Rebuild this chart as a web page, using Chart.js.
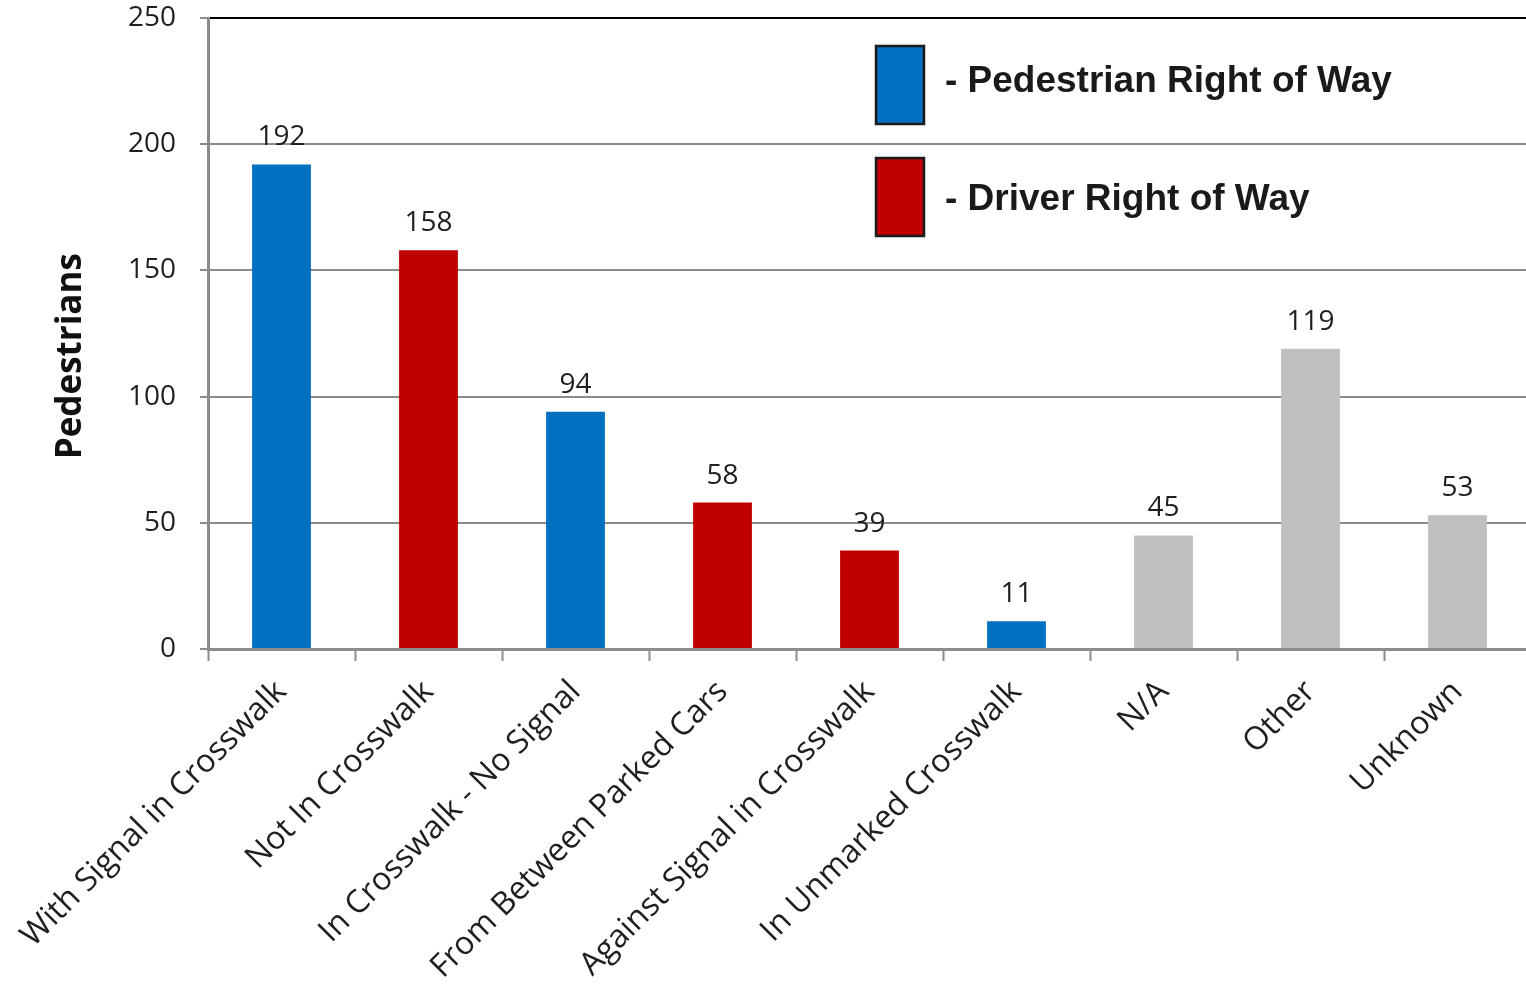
<!DOCTYPE html>
<html>
<head>
<meta charset="utf-8">
<title>Pedestrians by crossing location</title>
<script src="https://cdn.jsdelivr.net/npm/chart.js@4.4.1/dist/chart.umd.min.js"></script>
<style>
  html, body { margin: 0; padding: 0; overflow: hidden; background: #fff; }
  #wrap { width: 1531px; height: 988px; position: relative; }
</style>
</head>
<body>
<div id="wrap"><canvas id="chart"></canvas></div>
<script>
const categories = ['With Signal in Crosswalk', 'Not In Crosswalk', 'In Crosswalk - No Signal',
    'From Between Parked Cars', 'Against Signal in Crosswalk', 'In Unmarked Crosswalk',
    'N/A', 'Other', 'Unknown'];
const pedestrians = [192, 158, 94, 58, 39, 11, 45, 119, 53];
// which right-of-way group each bar belongs to
const groups = ['ped', 'driver', 'ped', 'driver', 'driver', 'ped', 'none', 'none', 'none'];
const groupColors = { ped: '#0070C0', driver: '#C00000', none: '#BFBFBF' };
const legendLabels = ['- Pedestrian Right of Way', '- Driver Right of Way'];
const legendGroups = ['ped', 'driver'];
const yTicks = [0, 50, 100, 150, 200, 250];

const textFont = "'Open Sans', 'Noto Sans', sans-serif";
const gridGray = '#8c8c8c';

const barValues = {
    id: 'barValues',
    afterDatasetsDraw(chart) {
        const ctx = chart.ctx;
        const meta = chart.getDatasetMeta(0);
        ctx.save();
        ctx.font = '28px ' + textFont;
        ctx.fillStyle = '#1f1f1f';
        ctx.textAlign = 'center';
        ctx.textBaseline = 'alphabetic';
        meta.data.forEach((bar, i) => {
            ctx.fillText(pedestrians[i], bar.x, bar.y - 19);
        });
        ctx.restore();
    }
};

const boxLegend = {
    id: 'boxLegend',
    afterDraw(chart) {
        const ctx = chart.ctx;
        ctx.save();
        legendLabels.forEach((label, i) => {
            const top = 46 + i * 112;
            ctx.fillStyle = groupColors[legendGroups[i]];
            ctx.fillRect(876, top, 48, 78);
            ctx.lineWidth = 2.5;
            ctx.strokeStyle = '#1a1a1a';
            ctx.strokeRect(876, top, 48, 78);
            ctx.fillStyle = '#1a1a1a';
            ctx.font = "bold 37px 'Liberation Sans', Arial, sans-serif";
            ctx.textBaseline = 'alphabetic';
            ctx.fillText(label, 945, 92 + i * 118);
        });
        ctx.restore();
    }
};

new Chart(document.getElementById('chart'), {
    type: 'bar',
    data: {
        labels: categories,
        datasets: [{
            label: 'Pedestrians',
            data: pedestrians,
            backgroundColor: groups.map(g => groupColors[g]),
            borderWidth: 0,
            categoryPercentage: 1,
            barPercentage: 0.4
        }]
    },
    options: {
        responsive: true,
        maintainAspectRatio: false,
        animation: false,
        layout: { padding: { top: 18, left: 0, right: 0, bottom: 0 } },
        plugins: {
            legend: { display: false },
            tooltip: { enabled: false }
        },
        scales: {
            x: {
                afterFit: (scale) => { scale.height = 339; },
                grid: {
                    drawOnChartArea: false,
                    drawTicks: true,
                    tickLength: 12,
                    tickWidth: 2,
                    tickColor: gridGray
                },
                border: { color: gridGray, width: 3 },
                ticks: {
                    maxRotation: 45,
                    minRotation: 45,
                    autoSkip: false,
                    padding: 12,
                    color: '#1f1f1f',
                    font: { family: textFont, size: 32 }
                }
            },
            y: {
                min: 0,
                max: 250,
                afterFit: (scale) => {
                    scale.width = 208;
                    scale.paddingTop = 0;
                    scale.paddingBottom = 0;
                },
                afterBuildTicks: (scale) => { scale.ticks = yTicks.map(v => ({ value: v })); },
                grid: {
                    color: (c) => c.tick && c.tick.value === 250 ? '#000' : gridGray,
                    lineWidth: 2,
                    tickLength: 8,
                    tickWidth: 2,
                    tickColor: gridGray
                },
                border: { color: gridGray, width: 3 },
                ticks: {
                    padding: 24,
                    color: '#1f1f1f',
                    font: { family: textFont, size: 28 }
                },
                title: {
                    display: true,
                    // trailing spaces nudge the title down to where the original sits
                    text: 'Pedestrians     ',
                    color: '#111',
                    padding: { top: 50 },
                    font: { family: textFont, size: 35, weight: 'bold' }
                }
            }
        }
    },
    plugins: [barValues, boxLegend]
});
</script>
</body>
</html>
